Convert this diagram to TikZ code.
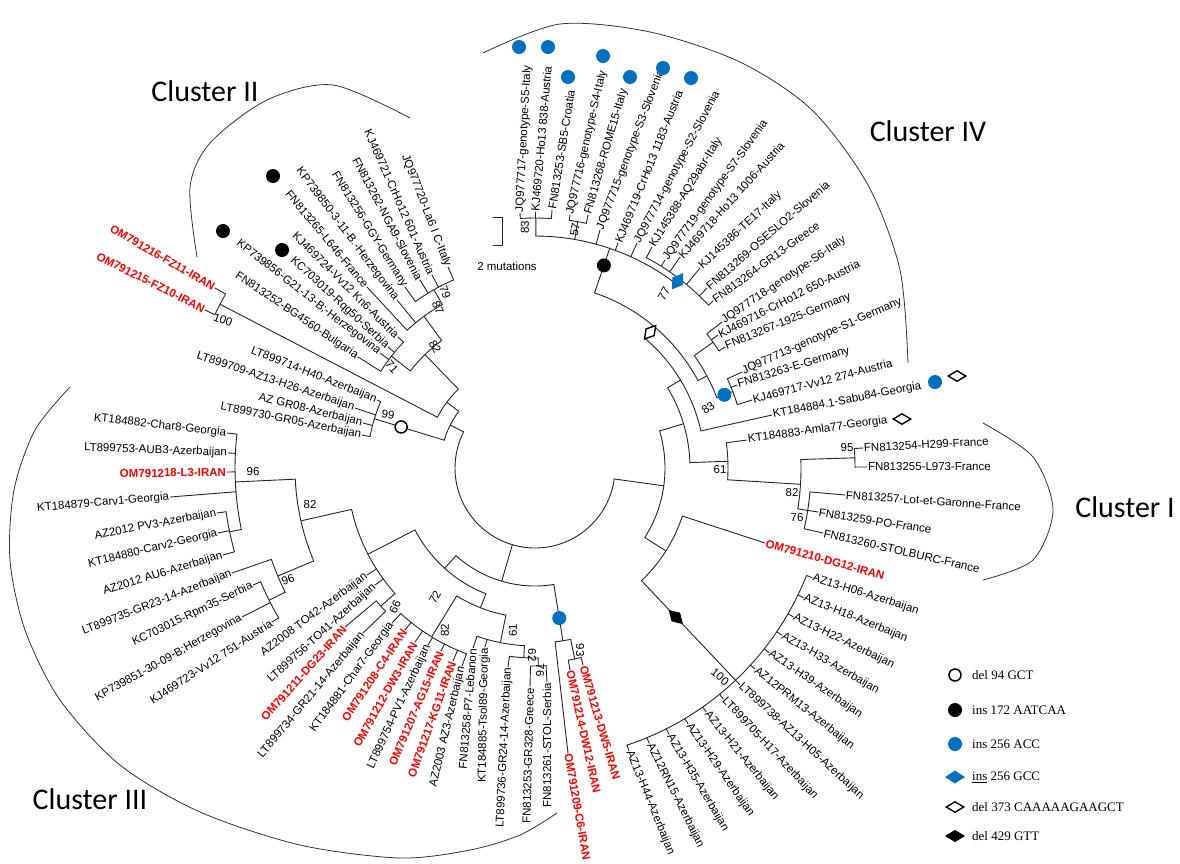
\documentclass[tikz,border=0pt]{standalone}
\usepackage{fontspec}
\setmainfont{Liberation Sans}
\newfontfamily\clusterfont{Carlito}
\newfontfamily\legendfont{Liberation Serif}
\usetikzlibrary{calc,shapes.geometric}
\definecolor{mutblue}{RGB}{0,112,192}
\definecolor{iranred}{RGB}{255,0,0}

\tikzset{
  branch/.style={line width=0.9pt, line cap=round, black!85},
  leaf/.style={inner sep=0.8pt, font=\fontsize{11.5}{13}\selectfont},
  iran/.style={text=iranred, font=\fontsize{11.5}{13}\selectfont\bfseries},
  boot/.style={inner sep=0pt, font=\fontsize{11.5}{13}\selectfont},
  dotm/.style={circle, fill=#1, inner sep=0pt, minimum size=14pt},
  ringm/.style={circle, draw, line width=1.5pt, fill=white, inner sep=0pt, minimum size=12pt},
  diam/.style={diamond, draw, line width=1.4pt, fill=#1, inner sep=0pt, minimum width=18pt, minimum height=11pt},
  bluediam/.style={diamond, fill=mutblue, inner sep=0pt, minimum width=20pt, minimum height=13pt},
  outline/.style={line width=0.8pt, black!80},
  legtext/.style={anchor=west, inner sep=0pt, font=\legendfont\fontsize{13}{15}\selectfont},
}

% leaves: name, x, y (pixels of the figure), rotation, text
\newcommand\leafr[6][]{\coordinate (#2) at (#3,-#4);
  \node[leaf,anchor=west,rotate=#5,#1] (l#2) at (#2) {#6};}
\newcommand\leafl[6][]{\coordinate (#2) at (#3,-#4);
  \node[leaf,anchor=east,rotate=#5,#1] (l#2) at (#2) {#6};}
% clade: name, radius, children listed clockwise
\newcommand\clade[3]{%
  \foreach \k [count=\i] in {#3}{%
    \draw[branch] (\k) -- ($(C)!#2pt!(\k)$);
    \ifnum\i=1 \xdef\cfirst{\k}\fi
    \xdef\clast{\k}}%
  \draw[branch] let \p1=($(\cfirst)-(C)$), \p2=($(\clast)-(C)$),
    \n1={atan2(\y1,\x1)}, \n2={atan2(\y2,\x2)},
    \n3={\n2>\n1 ? \n2-360 : \n2}, \n4={(\n1+\n3)/2} in
    ($(C)+(\n1:#2)$) arc[start angle=\n1, end angle=\n3, radius=#2]
    ($(C)+(\n4:#2)$) coordinate (#1);}

\begin{document}
\begin{tikzpicture}[x=1pt,y=1pt]
\useasboundingbox (0,0) rectangle (1180,-863);
\fill[white] (0,0) rectangle (1180,-863);
\coordinate (C) at (535,-468);

% Cluster IV
\leafr{jq977717}{520}{213}{87}{JQ977717-genotype-S5-Italy}
\leafr{kj469720}{535}{212}{85}{KJ469720-Ho13 838-Austria}
\leafr{fn813253s}{552}{210}{81}{FN813253-SB5-Croatia}
\leafr{jq977716}{570}{215}{77}{JQ977716-genotype-S4-Italy}
\leafr{fn813268}{588}{215}{74}{FN813268-ROME15-Italy}
\leafr{jq977715}{600}{230}{69}{JQ977715-genotype-S3-Slovenia}
\leafr{kj469719}{618}{243}{68}{KJ469719-CrHo13 1183-Austria}
\leafr{jq977714}{637}{243}{62}{JQ977714-genotype-S2-Slovenia}
\leafr{kj145388}{652}{247}{58}{KJ145388-AQ29abr-Italy}
\leafr{jq977719}{665}{260}{54}{JQ977719-genotype-S7-Slovenia}
\leafr{kj469718}{680}{257}{48}{KJ469718-Ho13 1006-Austria}
\leafr{kj145386}{700}{268}{43}{KJ145386-TE17-Italy}
\leafr{fn813269}{707}{288}{41}{FN813269-OSESLO2-Slovenia}
\leafr{fn813264}{713}{301}{36}{FN813264-GR13-Greece}
\leafr{jq977718}{722}{322}{34}{JQ977718-genotype-S6-Italy}
\leafr{kj469716}{718}{335}{27}{KJ469716-CrHo12 650-Austria}
\leafr{fn813267}{725}{347}{22}{FN813267-1925-Germany}
\leafr{jq977713}{742}{372}{24}{JQ977713-genotype-S1-Germany}
\leafr{fn813263}{737}{385}{17}{FN813263-E-Germany}
\leafr{kj469717}{752}{400}{15}{KJ469717-Vv12 274-Austria}
\leafr{kt184884}{772}{415}{11}{KT184884.1-Sabu84-Georgia}
\leafr{kt184883}{747}{440}{8}{KT184883-Amla77-Georgia}
% Cluster I
\leafr{fn813254}{863}{448}{3}{FN813254-H299-France}
\leafr{fn813255}{867}{467}{0}{FN813255-L973-France}
\leafr{fn813257}{845}{495}{-4}{FN813257-Lot-et-Garonne-France}
\leafr{fn813259}{818}{512}{-9}{FN813259-PO-France}
\leafr{fn813260}{823}{533}{-13}{FN813260-STOLBURC-France}
\leafr[iran]{om791210}{765}{543}{-15.5}{OM791210-DG12-IRAN}
\foreach \lab [count=\i] in {AZ13-H06-Azerbaijan,AZ13-H18-Azerbaijan,AZ13-H22-Azerbaijan,
  AZ13-H33-Azerbaijan,AZ13-H39-Azerbaijan,AZ12PRM13-Azerbaijan,LT899738-AZ13-H05-Azerbaijan,
  LT899705-H17-Azerbaijan,AZ13-H21-Azerbaijan,AZ13-H29-Azerbaijan,AZ13-H35-Azerbaijan,
  AZ12RN15-Azerbaijan,AZ13-H44-Azerbaijan}{
  \pgfmathsetmacro\ang{-21.6-(\i-1)*4.17}
  \coordinate (az\i) at ($(C)+(\ang:298)$);
  \node[leaf,anchor=west,rotate=\ang+4] (laz\i) at (az\i) {\lab};}
\leafr[iran]{om791213}{583}{665}{-73.6}{OM791213-DW5-IRAN}
\leafr[iran]{om791214}{570}{670}{-77.6}{OM791214-DW12-IRAN}
\leafr[iran]{om791209}{568}{753}{-80}{OM791209-C6-IRAN}
% Cluster III
\leafl{fn813261}{547}{682}{90}{FN813261-STOL-Serbia}
\leafl{fn813253g}{530}{687}{88.5}{FN813253-GR328-Greece}
\leafl{lt899736}{508}{667}{87.3}{LT899736-GR24-14-Azerbaijan}
\leafl{kt184885}{485}{647}{89}{KT184885-Tsol89-Georgia}
\leafl{fn813258}{473}{648}{85}{FN813258-P7-Lebanon}
\leafl{az2003}{462}{666}{76.7}{AZ2003 AZ3-Azerbaijan}
\leafl[iran]{om791217}{453}{661}{70.3}{OM791217-KG11-IRAN}
\leafl[iran]{om791207}{441}{651}{66.8}{OM791207-AG15-IRAN}
\leafl{lt899754}{428}{645}{65}{LT899754-PV1-Azerbaijan}
\leafl[iran]{om791212}{415}{642}{60.6}{OM791212-DW3-IRAN}
\leafl[iran]{om791208}{405}{630}{56.1}{OM791208-C4-IRAN}
\leafl{kt184881}{392}{623}{53.6}{KT184881-Char7-Georgia}
\leafl{lt899734}{363}{633}{50.3}{LT899734-GR21-14-Azerbaijan}
\leafl[iran]{om791211}{345}{627}{48.4}{OM791211-DG23-IRAN}
\leafl{lt899756}{375}{585}{42.2}{LT899756-TO41-Azerbaijan}
\leafl{az2008}{367}{575}{36.9}{AZ2008 TO42-Azerbaijan}
\leafl{kj469723}{272}{622}{33.2}{KJ469723-Vv12 751-Austria}
\leafl{kp739851}{242}{617}{29.3}{KP739851-30-09-B;Herzegovina}
\leafl{kc703015}{253}{585}{25.9}{KC703015-Rpm35-Serbia}
\leafl{lt899735}{232}{573}{21.6}{LT899735-GR23-14-Azerbaijan}
\leafl{au6}{223}{555}{17}{AZ2012 AU6-Azerbaijan}
\leafl{kt184880}{218}{533}{13.5}{KT184880-Carv2-Georgia}
\leafl{pv3}{217}{513}{10.7}{AZ2012 PV3-Azerbaijan}
\leafl{kt184879}{170}{497}{5}{KT184879-Carv1-Georgia}
\leafl[iran]{om791218}{227}{472}{0.9}{OM791218-L3-IRAN}
\leafl{lt899753}{228}{453}{-2}{LT899753-AUB3-Azerbaijan}
\leafl{kt184882}{227}{433}{-6.4}{KT184882-Char8-Georgia}
\leafl{lt899730}{362}{435}{-11.2}{LT899730-GR05-Azerbaijan}
\leafl{azgr08}{363}{423}{-13.6}{AZ GR08-Azerbaijan}
\leafl{lt899709}{355}{408}{-18.4}{LT899709-AZ13-H26-Azerbaijan}
\leafl{lt899714}{377}{400}{-21.5}{LT899714-H40-Azerbaijan}
% Cluster II
\leafl[iran]{om791215}{205}{310}{-26.9}{OM791215-FZ10-IRAN}
\leafl[iran]{om791216}{215}{288}{-30}{OM791216-FZ11-IRAN}
\leafl{fn813252}{358}{357}{-34}{FN813252-BG4560-Bulgaria}
\leafl{kp739856}{380}{353}{-37.9}{KP739856-G21-13-B;-Herzegovina}
\leafl{kc703019}{388}{347}{-42.5}{KC703019-Rqg50-Serbia}
\leafl{kj469724}{398}{337}{-45}{KJ469724-Vv12 Kn6-Austria}
\leafl{fn813265}{367}{287}{-50.2}{FN813265-L646-France}
\leafl{kp739850}{397}{300}{-53}{KP739850-3-11-B.-Herzegovina}
\leafl{fn813256}{405}{287}{-58.1}{FN813256-GGY-Germany}
\leafl{fn813262}{420}{280}{-62.2}{FN813262-NGA9-Slovenia}
\leafl{kj469721}{432}{275}{-66.1}{KJ469721-CrHo12 601-Austria}
\leafl{jq977720}{448}{267}{-68.8}{JQ977720-La6 I C-Italy}

% tree
\clade{nA4}{250}{jq977717,kj469720,fn813253s}
\clade{nB4}{250}{jq977716,fn813268}
\clade{nC4}{238}{kj145388,jq977719,kj469718,kj145386,fn813269,fn813264}
\clade{nU4}{232}{nA4,nB4,jq977715,kj469719,jq977714,nC4}
\clade{nL4a}{218}{jq977718,kj469716,fn813267}
\clade{nL4b}{212}{jq977713,fn813263,kj469717}
\clade{nL4}{195}{nL4a,nL4b}
\clade{nIV}{185}{nU4,nL4}
\clade{nIVb}{170}{nIV,kt184884}
\clade{n95}{320}{fn813254,fn813255}
\clade{n76}{276}{fn813257,fn813259,fn813260}
\clade{n82i}{266}{n95,n76}
\clade{n61}{193}{kt184883,n82i}
\clade{nRa}{155}{nIVb,n61}
\clade{nAZ}{292}{az1,az2,az3,az4,az5,az6,az7,az8,az9,az10,az11,az12,az13}
\clade{nDG}{155}{om791210,nAZ}
\clade{nR}{130}{nRa,nDG}
\clade{n93}{195}{om791213,om791214}
\clade{nDW}{175}{n93,om791209}
\clade{n76b}{198}{fn813261,fn813253g}
\clade{n62}{190}{n76b,lt899736}
\clade{n61b}{178}{n62,kt184885,fn813258}
\clade{n82d}{198}{az2003,om791217,om791207,lt899754,om791212,om791208,kt184881}
\clade{n72}{150}{n61b,n82d}
\clade{n66}{207}{lt899734,om791211}
\clade{nKC}{297}{kj469723,kp739851,kc703015}
\clade{n96b}{279}{nKC,lt899735}
\clade{nPV}{312}{au6,kt184880,pv3}
\clade{n96a}{300}{nPV,kt184879,om791218,lt899753,kt184882}
\clade{n82c}{240}{n96b,n96a}
\clade{nM3}{188}{n66,lt899756,az2008,n82c}
\clade{nIIIa}{135}{n72,nM3}
\clade{nIII}{118}{nDW,nIIIa}
\clade{n99}{168}{lt899730,azgr08,lt899709,lt899714}
\clade{nFZ}{355}{om791215,om791216}
\clade{n79}{205}{fn813256,fn813262,kj469721,jq977720}
\clade{n87}{188}{fn813265,kp739850,n79}
\clade{n71}{182}{fn813252,kp739856,kc703019,kj469724}
\clade{n82b}{158}{n71,n87}
\clade{nG2}{110}{nFZ,n82b}
\clade{nL}{95}{n99,nG2}
\clade{root}{80}{nR,nIII,nL}

% bootstrap values
\node[boot,rotate=90] (b83a) at (525,-227) {83};
\node[boot,rotate=80] (b57) at (575,-230) {57};
\node[boot,rotate=60] (b77) at (664,-294) {77};
\node[boot,rotate=35] (b83b) at (708,-408) {83};
\node[boot] (b95) at (847,-448) {95};
\node[boot] (b82i) at (792,-493) {82};
\node[boot] (b76i) at (797,-518) {76};
\node[boot] (b61i) at (720,-470) {61};
\node[boot,rotate=-40] (b100a) at (720,-677) {100};
\node[boot,rotate=-90] (b93) at (580,-650) {93};
\node[boot,rotate=-90] (b76b) at (540,-670) {76};
\node[boot,rotate=-90] (b62) at (532,-655) {62};
\node[boot,rotate=90] (b61b) at (513,-630) {61};
\node[boot,rotate=90] (b82d) at (445,-630) {82};
\node[boot,rotate=60] (b72) at (435,-597) {72};
\node[boot,rotate=65] (b66) at (395,-607) {66};
\node[boot,rotate=20] (b96b) at (288,-580) {96};
\node[boot] (b82c) at (310,-505) {82};
\node[boot] (b96a) at (253,-472) {96};
\node[boot,rotate=-10] (b99) at (388,-415) {99};
\node[boot,rotate=-20] (b100b) at (223,-320) {100};
\node[boot,rotate=-50] (b71) at (392,-367) {71};
\node[boot,rotate=-60] (b82b) at (435,-347) {82};
\node[boot,rotate=-65] (b87) at (438,-308) {87};
\node[boot,rotate=-70] (b79) at (445,-292) {79};

% mutations on branches
\node[ringm] (m94) at ($(C)!140pt!(n99)$) {};
\node[dotm=black] (m172) at ($(C)!214pt!(nU4)$) {};
\node[bluediam,rotate=55] (m256g) at ($(C)!235pt!(nC4)$) {};
\node[diam=white,rotate=50] (m373) at ($(C)!178pt!(nIV)$) {};
\node[dotm=mutblue] (m256b) at ($(C)!203pt!(nL4b)$) {};
\node[diam=black,rotate=-45] (m429) at ($(C)!205pt!(nAZ)$) {};
\node[dotm=mutblue] (m256c) at ($(C)!152pt!(nDW)$) {};
% mutations at the tips
\foreach \px/\py [count=\i] in {519/47,548/47,568/77,603/56,630/77,663/68,691/78}
  \node[dotm=mutblue] (tb\i) at (\px,-\py) {};
\foreach \px/\py [count=\i] in {273/176,223/231,282/250}
  \node[dotm=black] (tk\i) at (\px,-\py) {};
\node[dotm=mutblue] (tb8) at (935,-382) {};
\node[diam=white] (td1) at (957,-376) {};
\node[diam=white] (td2) at (902,-419) {};

% scale
\coordinate (sb1) at (493,-217);
\coordinate (sb2) at (493,-245);
\draw[branch] (sb1) -- ++(9,0) |- (sb2);
\node[boot] (sbtext) at (507,-266) {2 mutations};

% cluster outlines
\draw[outline] plot[smooth] coordinates {(410,-118) (333,-85) (267,-100) (210,-143) (190,-187) (197,-257)};
\draw[outline] plot[smooth] coordinates {(483,-53) (560,-24) (650,-32) (740,-62) (812,-110) (868,-185) (900,-270) (908,-363)};
\draw[outline] plot[smooth] coordinates {(983,-423) (1033,-457) (1053,-510) (1033,-560) (983,-580)};
\draw[outline] plot[smooth] coordinates {(70,-387) (35,-430) (14,-490) (10,-560) (25,-630) (60,-700) (120,-765) (200,-812) (300,-845) (400,-858) (470,-850) (520,-835) (557,-813)};
\node[font=\clusterfont\fontsize{30}{34}\selectfont] (cl2) at (205,-91) {Cluster II};
\node[font=\clusterfont\fontsize{30}{34}\selectfont] (cl4) at (928,-131) {Cluster IV};
\node[font=\clusterfont\fontsize{30}{34}\selectfont] (cl1) at (1125,-507) {Cluster I};
\node[font=\clusterfont\fontsize{30}{34}\selectfont] (cl3) at (90,-799) {Cluster III};

% legend
\node[ringm] (g1) at (955,-675) {};
\node[legtext] (t1) at (972,-675) {del 94 GCT};
\node[dotm=black] (g2) at (955,-710) {};
\node[legtext] (t2) at (972,-710) {ins 172 AATCAA};
\node[dotm=mutblue] (g3) at (955,-744) {};
\node[legtext] (t3) at (972,-744) {ins 256 ACC};
\node[bluediam] (g4) at (955,-777) {};
\node[legtext] (t4) at (972,-777) {\underline{ins} 256 GCC};
\node[diam=white] (g5) at (955,-807) {};
\node[legtext] (t5) at (972,-807) {del 373 CAAAAAGAAGCT};
\node[diam=black] (g6) at (955,-836) {};
\node[legtext] (t6) at (972,-836) {del 429 GTT};
\end{tikzpicture}
\end{document}
